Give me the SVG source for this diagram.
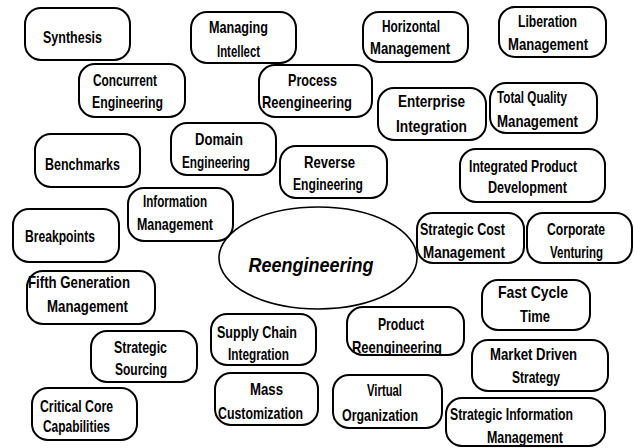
<svg xmlns="http://www.w3.org/2000/svg" width="634" height="448" viewBox="0 0 634 448">
  <style>
    .box { fill: #ffffff; stroke: #000000; stroke-width: 2; }
    .hub { fill: #ffffff; stroke: #000000; stroke-width: 1.6; }
    text { font-family: "Liberation Sans", Arial, sans-serif; font-size: 17px; font-weight: bold; fill: #000000; text-anchor: middle; }
    .hubtext { font-size: 21px; font-style: italic; font-weight: bold; }
  </style>
  <rect width="634" height="448" fill="#ffffff"/>

  <!-- central concept -->
  <g id="reengineering">
    <ellipse class="hub" cx="318" cy="258" rx="99" ry="51"/>
    <text class="hubtext" x="311" y="272" textLength="125" lengthAdjust="spacingAndGlyphs">Reengineering</text>
  </g>

  <!-- surrounding concepts -->
  <g id="synthesis">
    <rect class="box" x="25" y="8" width="105" height="52" rx="16"/>
    <text x="72.5" y="43" textLength="59" lengthAdjust="spacingAndGlyphs">Synthesis</text>
  </g>
  <g id="managing-intellect">
    <rect class="box" x="191" y="12" width="105" height="51" rx="16"/>
    <text x="238.5" y="33" textLength="59" lengthAdjust="spacingAndGlyphs">Managing</text>
    <text x="238.5" y="57" textLength="43" lengthAdjust="spacingAndGlyphs">Intellect</text>
  </g>
  <g id="horizontal-management">
    <rect class="box" x="363" y="12" width="105" height="50" rx="16"/>
    <text x="411" y="32" textLength="58" lengthAdjust="spacingAndGlyphs">Horizontal</text>
    <text x="410" y="54" textLength="80" lengthAdjust="spacingAndGlyphs">Management</text>
  </g>
  <g id="liberation-management">
    <rect class="box" x="499" y="7" width="107" height="50" rx="16"/>
    <text x="547.5" y="27" textLength="59" lengthAdjust="spacingAndGlyphs">Liberation</text>
    <text x="548" y="50" textLength="80" lengthAdjust="spacingAndGlyphs">Management</text>
  </g>
  <g id="concurrent-engineering">
    <rect class="box" x="79" y="64" width="106" height="53" rx="16"/>
    <text x="125" y="86" textLength="64" lengthAdjust="spacingAndGlyphs">Concurrent</text>
    <text x="127.5" y="108" textLength="71" lengthAdjust="spacingAndGlyphs">Engineering</text>
  </g>
  <g id="process-reengineering">
    <rect class="box" x="259" y="65" width="113" height="52" rx="16"/>
    <text x="312.5" y="86" textLength="49" lengthAdjust="spacingAndGlyphs">Process</text>
    <text x="307" y="108" textLength="90" lengthAdjust="spacingAndGlyphs">Reengineering</text>
  </g>
  <g id="enterprise-integration">
    <rect class="box" x="378" y="88" width="108" height="52" rx="16"/>
    <text x="431.5" y="107" textLength="67" lengthAdjust="spacingAndGlyphs">Enterprise</text>
    <text x="431.5" y="132" textLength="71" lengthAdjust="spacingAndGlyphs">Integration</text>
  </g>
  <g id="total-quality-management">
    <rect class="box" x="490" y="83" width="107" height="50" rx="16"/>
    <text x="532" y="103" textLength="70" lengthAdjust="spacingAndGlyphs">Total Quality</text>
    <text x="537.5" y="127" textLength="81" lengthAdjust="spacingAndGlyphs">Management</text>
  </g>
  <g id="domain-engineering">
    <rect class="box" x="171" y="123" width="105" height="52" rx="16"/>
    <text x="219" y="145" textLength="48" lengthAdjust="spacingAndGlyphs">Domain</text>
    <text x="216" y="168" textLength="68" lengthAdjust="spacingAndGlyphs">Engineering</text>
  </g>
  <g id="reverse-engineering">
    <rect class="box" x="280" y="146" width="107" height="52" rx="16"/>
    <text x="329.5" y="168" textLength="51" lengthAdjust="spacingAndGlyphs">Reverse</text>
    <text x="328" y="190" textLength="70" lengthAdjust="spacingAndGlyphs">Engineering</text>
  </g>
  <g id="benchmarks">
    <rect class="box" x="35" y="134" width="105" height="53" rx="16"/>
    <text x="82.5" y="170" textLength="75" lengthAdjust="spacingAndGlyphs">Benchmarks</text>
  </g>
  <g id="integrated-product-development">
    <rect class="box" x="460" y="149" width="145" height="53" rx="16"/>
    <text x="523" y="172" textLength="108" lengthAdjust="spacingAndGlyphs">Integrated Product</text>
    <text x="527.5" y="193" textLength="79" lengthAdjust="spacingAndGlyphs">Development</text>
  </g>
  <g id="information-management">
    <rect class="box" x="128" y="188" width="105" height="53" rx="16"/>
    <text x="175" y="207" textLength="64" lengthAdjust="spacingAndGlyphs">Information</text>
    <text x="175" y="230" textLength="76" lengthAdjust="spacingAndGlyphs">Management</text>
  </g>
  <g id="breakpoints">
    <rect class="box" x="13" y="209" width="106" height="53" rx="16"/>
    <text x="60" y="242" textLength="70" lengthAdjust="spacingAndGlyphs">Breakpoints</text>
  </g>
  <g id="strategic-cost-management">
    <rect class="box" x="417" y="213" width="107" height="50" rx="16"/>
    <text x="462.5" y="235" textLength="85" lengthAdjust="spacingAndGlyphs">Strategic Cost</text>
    <text x="464" y="258" textLength="82" lengthAdjust="spacingAndGlyphs">Management</text>
  </g>
  <g id="corporate-venturing">
    <rect class="box" x="527" y="213" width="105" height="50" rx="16"/>
    <text x="576" y="235" textLength="58" lengthAdjust="spacingAndGlyphs">Corporate</text>
    <text x="576.5" y="258" textLength="53" lengthAdjust="spacingAndGlyphs">Venturing</text>
  </g>
  <g id="fifth-generation-management">
    <rect class="box" x="27" y="271" width="128" height="53" rx="16"/>
    <text x="79" y="288" textLength="102" lengthAdjust="spacingAndGlyphs">Fifth Generation</text>
    <text x="87.5" y="312" textLength="81" lengthAdjust="spacingAndGlyphs">Management</text>
  </g>
  <g id="fast-cycle-time">
    <rect class="box" x="482" y="280" width="108" height="50" rx="16"/>
    <text x="533" y="298" textLength="70" lengthAdjust="spacingAndGlyphs">Fast Cycle</text>
    <text x="535" y="322" textLength="30" lengthAdjust="spacingAndGlyphs">Time</text>
  </g>
  <g id="supply-chain-integration">
    <rect class="box" x="211" y="314" width="105" height="51" rx="16"/>
    <text x="257" y="338" textLength="80" lengthAdjust="spacingAndGlyphs">Supply Chain</text>
    <text x="258.5" y="360" textLength="61" lengthAdjust="spacingAndGlyphs">Integration</text>
  </g>
  <g id="product-reengineering">
    <rect class="box" x="347" y="307" width="117" height="48" rx="16"/>
    <text x="401" y="330" textLength="46" lengthAdjust="spacingAndGlyphs">Product</text>
    <text x="397" y="353" textLength="90" lengthAdjust="spacingAndGlyphs">Reengineering</text>
  </g>
  <g id="strategic-sourcing">
    <rect class="box" x="91" y="331" width="106" height="51" rx="16"/>
    <text x="140.5" y="353" textLength="53" lengthAdjust="spacingAndGlyphs">Strategic</text>
    <text x="141" y="375" textLength="52" lengthAdjust="spacingAndGlyphs">Sourcing</text>
  </g>
  <g id="market-driven-strategy">
    <rect class="box" x="472" y="340" width="136" height="51" rx="16"/>
    <text x="533.5" y="360" textLength="87" lengthAdjust="spacingAndGlyphs">Market Driven</text>
    <text x="536" y="383" textLength="48" lengthAdjust="spacingAndGlyphs">Strategy</text>
  </g>
  <g id="mass-customization">
    <rect class="box" x="215" y="373" width="103" height="52" rx="16"/>
    <text x="266.5" y="395" textLength="33" lengthAdjust="spacingAndGlyphs">Mass</text>
    <text x="260.5" y="419" textLength="85" lengthAdjust="spacingAndGlyphs">Customization</text>
  </g>
  <g id="virtual-organization">
    <rect class="box" x="333" y="375" width="109" height="53" rx="16"/>
    <text x="384.5" y="396" textLength="35" lengthAdjust="spacingAndGlyphs">Virtual</text>
    <text x="380" y="421" textLength="76" lengthAdjust="spacingAndGlyphs">Organization</text>
  </g>
  <g id="critical-core-capabilities">
    <rect class="box" x="32" y="388" width="105" height="52" rx="16"/>
    <text x="76.5" y="412" textLength="73" lengthAdjust="spacingAndGlyphs">Critical Core</text>
    <text x="76.5" y="432" textLength="67" lengthAdjust="spacingAndGlyphs">Capabilities</text>
  </g>
  <g id="strategic-information-management">
    <rect class="box" x="446" y="398" width="159" height="48" rx="16"/>
    <text x="511.5" y="420" textLength="123" lengthAdjust="spacingAndGlyphs">Strategic Information</text>
    <text x="525" y="443" textLength="76" lengthAdjust="spacingAndGlyphs">Management</text>
  </g>
</svg>
